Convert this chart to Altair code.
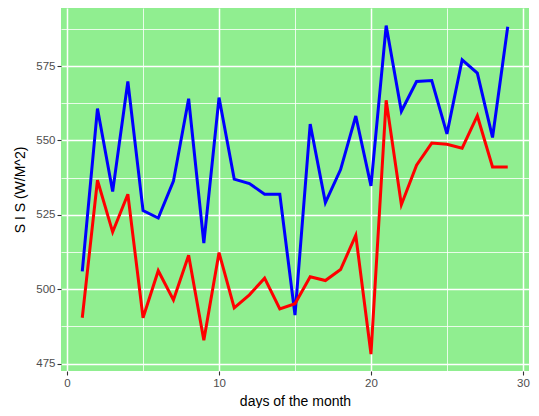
import altair as alt
import pandas as pd

days = list(range(1, 30))
blue_sis = [506.0, 560.7, 532.8, 569.8, 526.4, 523.9, 536.3, 564.0, 515.5, 564.4,
            537.0, 535.5, 531.9, 531.9, 491.3, 555.5, 529.1, 540.2, 558.2, 534.7,
            588.6, 559.8, 569.8, 570.1, 552.2, 577.1, 572.6, 551.0, 588.2]
red_sis = [490.4, 536.6, 519.2, 531.9, 490.4, 506.2, 496.4, 511.4, 482.8, 512.3,
           493.7, 498.1, 503.7, 493.4, 495.1, 504.2, 502.9, 506.6, 518.1, 478.2,
           563.5, 528.4, 541.7, 549.1, 548.7, 547.4, 558.3, 541.1, 541.1]

x_ticks = [0, 5, 10, 15, 20, 25, 30]
y_ticks = [475, 487.5, 500, 512.5, 525, 537.5, 550, 562.5, 575, 587.5]

df = pd.DataFrame({
    "day": days * 2,
    "sis": blue_sis + red_sis,
    "series": ["blue"] * len(days) + ["red"] * len(days),
})

FONT = "Liberation Sans"

x_axis = alt.Axis(
    values=x_ticks,
    labelExpr="datum.value % 10 == 0 ? datum.label : ''",
    grid=True,
    gridColor="white",
    gridWidth={"condition": {"test": "datum.value % 10 == 0", "value": 1.5}, "value": 0.8},
    tickOpacity={"condition": {"test": "datum.value % 10 == 0", "value": 1}, "value": 0},
    domain=False,
    tickColor="#333333",
    tickSize=4,
    tickWidth=1.1,
    labelColor="#4D4D4D",
    labelFontSize=11.5,
    labelFont=FONT,
    labelPadding=2,
    title="days of the month",
    titleFont=FONT,
    titleFontSize=14,
    titleFontWeight="normal",
    titleColor="black",
    titlePadding=6,
)

y_axis = alt.Axis(
    values=y_ticks,
    labelExpr="datum.value % 25 == 0 ? datum.label : ''",
    grid=True,
    gridColor="white",
    gridWidth={"condition": {"test": "datum.value % 25 == 0", "value": 1.5}, "value": 0.8},
    tickOpacity={"condition": {"test": "datum.value % 25 == 0", "value": 1}, "value": 0},
    domain=False,
    tickColor="#333333",
    tickSize=4,
    tickWidth=1.1,
    labelColor="#4D4D4D",
    labelFontSize=11.5,
    labelFont=FONT,
    labelPadding=2,
    title="S I S (W/M^2)",
    titleFont=FONT,
    titleFontSize=14,
    titleFontWeight="normal",
    titleColor="black",
    titlePadding=8,
)

base = alt.Chart(df).mark_line(strokeWidth=3).encode(
    x=alt.X("day:Q", scale=alt.Scale(domain=[-0.4, 30.4], nice=False, zero=False), axis=x_axis),
    y=alt.Y("sis:Q", scale=alt.Scale(domain=[472.5, 594.5], nice=False, zero=False), axis=y_axis),
    color=alt.Color("series:N", scale=alt.Scale(domain=["blue", "red"], range=["blue", "red"]), legend=None),
)

blue_line = base.transform_filter(alt.datum.series == "blue")
red_line = base.transform_filter(alt.datum.series == "red")

chart = alt.layer(blue_line, red_line).properties(
    width=468,
    height=363,
    autosize=alt.AutoSizeParams(type="none"),
    padding={"left": 53, "top": 0, "right": 2, "bottom": 37},
).configure_view(
    fill="#90EE90",
    strokeWidth=0,
)

chart.save("out.html", embed_options={"renderer": "svg", "actions": False})
